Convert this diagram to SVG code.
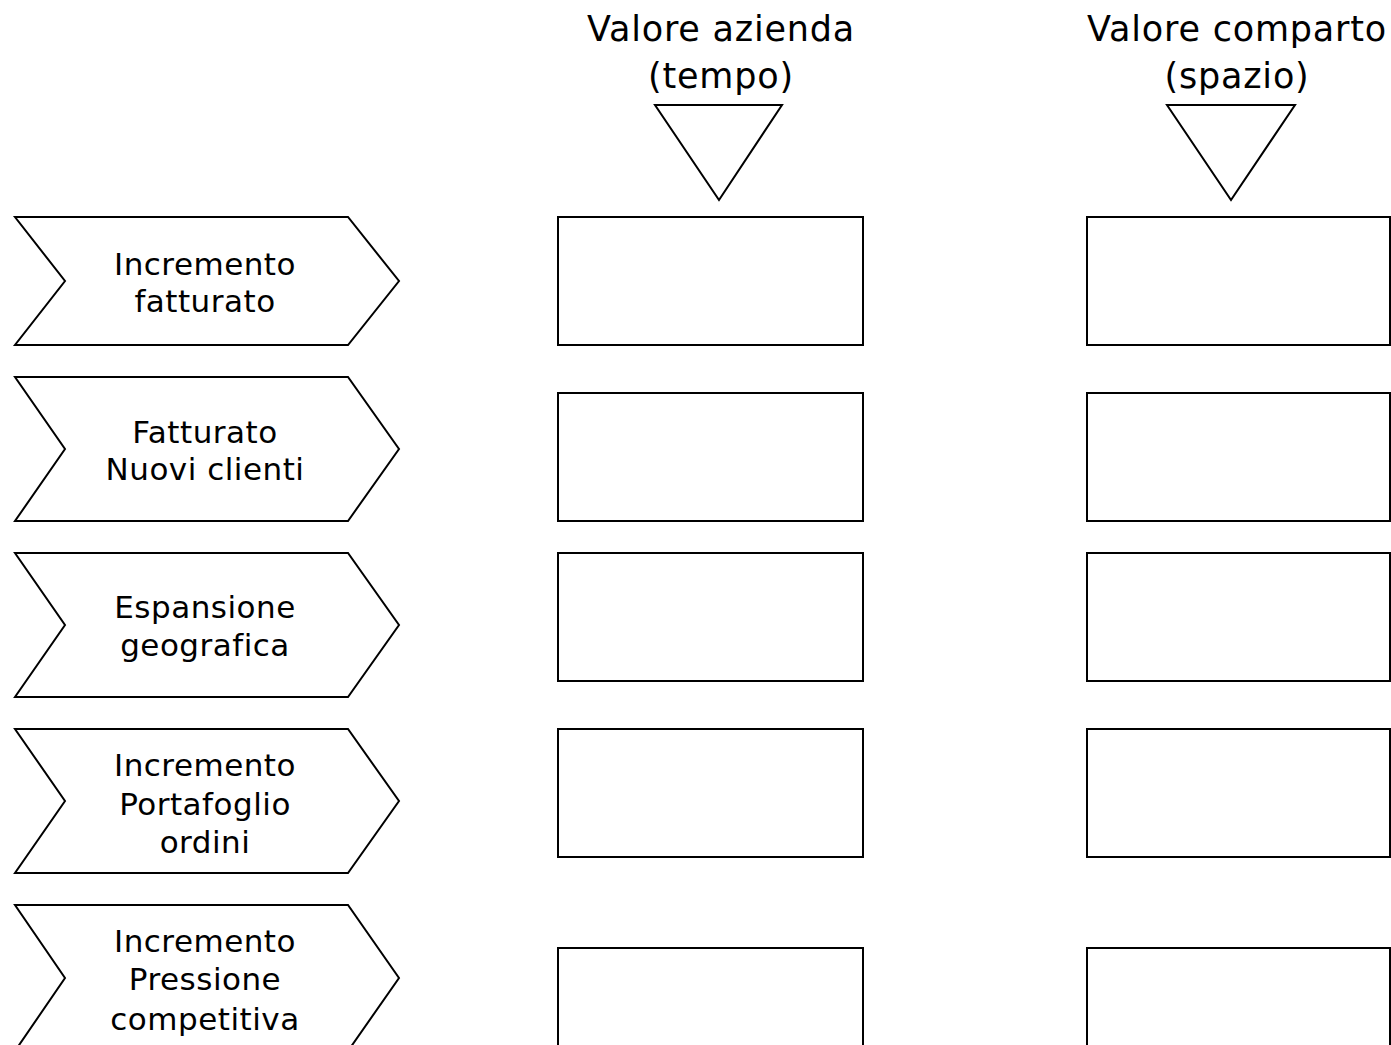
<svg xmlns="http://www.w3.org/2000/svg" width="1391" height="1045" viewBox="0 0 1391 1045">
<style>
.s{fill:#fff;stroke:#000;stroke-width:2;stroke-linejoin:miter}
.t{font-family:"DejaVu Sans",Verdana,sans-serif;font-size:31px;letter-spacing:0.5px;fill:#000;text-anchor:middle}
.h{font-family:"DejaVu Sans",Verdana,sans-serif;font-size:35px;letter-spacing:0.8px;fill:#000;text-anchor:middle}
</style>
<rect width="1391" height="1045" fill="#fff"/>
<g id="header-azienda">
<text class="h" x="721" y="41">Valore azienda</text>
<text class="h" x="721" y="88">(tempo)</text>
<polygon class="s" points="655,105 782,105 719,200"/>
</g>
<g id="header-comparto">
<text class="h" x="1237" y="41">Valore comparto</text>
<text class="h" x="1237" y="88">(spazio)</text>
<polygon class="s" points="1167,105 1295,105 1231,200"/>
</g>
<g id="chevron-1">
<polygon class="s" points="15,217 348,217 399,281 348,345 15,345 65,281"/>
<text class="t" x="205" y="275">Incremento</text>
<text class="t" x="205" y="312">fatturato</text>
</g>
<g id="chevron-2">
<polygon class="s" points="15,377 348,377 399,449 348,521 15,521 65,449"/>
<text class="t" x="205" y="443">Fatturato</text>
<text class="t" x="205" y="480">Nuovi clienti</text>
</g>
<g id="chevron-3">
<polygon class="s" points="15,553 348,553 399,625 348,697 15,697 65,625"/>
<text class="t" x="205" y="618">Espansione</text>
<text class="t" x="205" y="656">geografica</text>
</g>
<g id="chevron-4">
<polygon class="s" points="15,729 348,729 399,801 348,873 15,873 65,801"/>
<text class="t" x="205" y="776">Incremento</text>
<text class="t" x="205" y="815">Portafoglio</text>
<text class="t" x="205" y="853">ordini</text>
</g>
<g id="chevron-5">
<polygon class="s" points="15,905 348,905 399,978 348,1051 15,1051 65,978"/>
<text class="t" x="205" y="952">Incremento</text>
<text class="t" x="205" y="990">Pressione</text>
<text class="t" x="205" y="1030">competitiva</text>
</g>
<g id="box-a1"><rect class="s" x="558" y="217" width="305" height="128"/></g>
<g id="box-a2"><rect class="s" x="558" y="393" width="305" height="128"/></g>
<g id="box-a3"><rect class="s" x="558" y="553" width="305" height="128"/></g>
<g id="box-a4"><rect class="s" x="558" y="729" width="305" height="128"/></g>
<g id="box-a5"><rect class="s" x="558" y="948" width="305" height="128"/></g>
<g id="box-b1"><rect class="s" x="1087" y="217" width="303" height="128"/></g>
<g id="box-b2"><rect class="s" x="1087" y="393" width="303" height="128"/></g>
<g id="box-b3"><rect class="s" x="1087" y="553" width="303" height="128"/></g>
<g id="box-b4"><rect class="s" x="1087" y="729" width="303" height="128"/></g>
<g id="box-b5"><rect class="s" x="1087" y="948" width="303" height="128"/></g>
<g id="connectors"></g>
</svg>
